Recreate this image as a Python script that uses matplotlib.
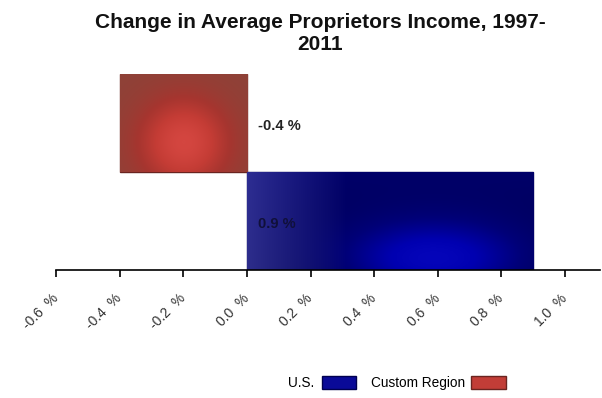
import numpy as np
import matplotlib.pyplot as plt
from matplotlib.patches import Patch
from matplotlib.colors import LinearSegmentedColormap

plt.rcParams['font.family'] = ['Liberation Sans', 'DejaVu Sans']

title = 'Change in Average Proprietors Income, 1997-\n2011'
series = ['U.S.', 'Custom Region']
values = [0.9, -0.4]
xticks = [-0.6, -0.4, -0.2, 0.0, 0.2, 0.4, 0.6, 0.8, 1.0]


def gradient_fill(ax, bar, kind):
    # paint a soft shaded image inside the bar outline
    x0, y0 = bar.get_x(), bar.get_y()
    w, h = bar.get_width(), bar.get_height()
    u, v = np.meshgrid(np.linspace(0, 1, 200), np.linspace(1, 0, 100))
    if kind == 'blue':
        cmap = LinearSegmentedColormap.from_list(
            'b', ['#000052', '#000078', '#0000b0', '#0a0ac4'])
        glow = np.exp(-((u - 0.65) ** 2) / 0.1 - ((v - 0.1) ** 2) / 0.15)
        val = 0.2 + 0.8 * glow - 0.2 * (1 - v)
        img = cmap(np.clip(val, 0, 1))
        left = np.clip(1 - u / 0.35, 0, 1)[..., None]
        img[..., :3] = img[..., :3] * (1 - 0.65 * left) + \
            np.array([0.27, 0.27, 0.66]) * 0.65 * left
    else:
        cmap = LinearSegmentedColormap.from_list(
            'r', ['#8e4238', '#a6352f', '#c43c35', '#d44640'])
        glow = np.exp(-((u - 0.5) ** 2) / 0.12 - ((v - 0.3) ** 2) / 0.2)
        img = cmap(np.clip(glow, 0, 1))
    x1, x2 = sorted([x0, x0 + w])
    im = ax.imshow(img, extent=[x1, x2, y0, y0 + h], aspect='auto',
                   interpolation='bilinear', zorder=2)
    im.set_clip_path(bar)


fig = plt.figure(figsize=(6.02, 3.98), dpi=100)
ax = fig.add_axes([56 / 602, 1 - 270 / 398, 544 / 602, 196 / 398])

colors = ['#000090', '#b83a34']
edges = ['#000050', '#6a2420']
kinds = ['blue', 'red']
for i, (name, val) in enumerate(zip(series, values)):
    bar = ax.barh(i + 0.5, val, height=1.0, color=colors[i],
                  edgecolor=edges[i], linewidth=1, zorder=1)[0]
    gradient_fill(ax, bar, kinds[i])
    ax.text(0.035, i + 0.47, f'{val:.1f} %', ha='left', va='center',
            fontsize=10.5, fontweight='bold',
            color='#10103a' if val > 0 else '#222222', zorder=3)

ax.set_xlim(-0.6, 1.11)
ax.set_ylim(0, 2)
ax.set_xticks(xticks)
ax.set_xticklabels([f'{t:.1f}  %' for t in xticks], rotation=45,
                   ha='right', va='center', rotation_mode='anchor',
                   fontsize=10, color='#333333')
ax.set_yticks([])
for s in ['top', 'right', 'left']:
    ax.spines[s].set_visible(False)
ax.spines['bottom'].set_linewidth(1.2)
ax.tick_params(axis='x', length=5, width=1.2, pad=14)

fig.text(320 / 602, 1 - 33 / 398, title, ha='center', va='center',
         fontsize=15, fontweight='bold', linespacing=1.2, color='#111111')

handles = [Patch(facecolor='#0a0a98', edgecolor='#000050'),
           Patch(facecolor='#c23d37', edgecolor='#6a2420')]
fig.legend(handles, series, ncol=2, markerfirst=False, frameon=False,
           loc='center', bbox_to_anchor=(397 / 602, 1 - 383 / 398),
           fontsize=9.8, handlelength=2.5, handleheight=1.1,
           handletextpad=0.5, columnspacing=1.1)

fig.savefig('out.png', dpi=100)
